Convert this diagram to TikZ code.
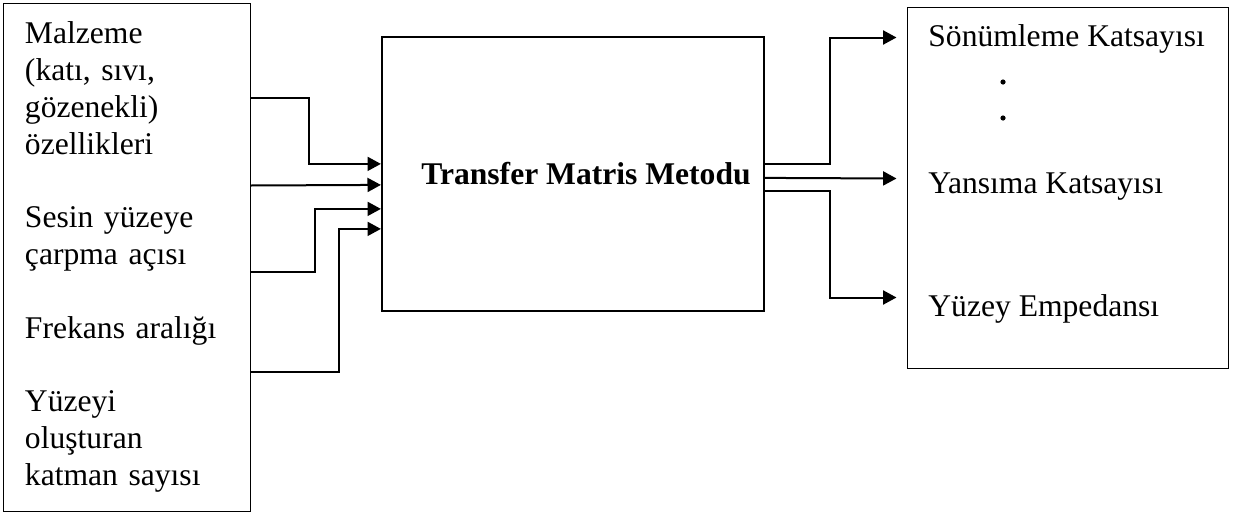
\documentclass[tikz,border=0pt]{standalone}
\usepackage{fontspec}
\setmainfont{Liberation Serif}
\usetikzlibrary{arrows.meta,calc}
\begin{document}
\begin{tikzpicture}[x=0.5pt,y=-0.5pt,
  every node/.style={font=\fontsize{15.8pt}{18.4pt}\selectfont},
  thinbox/.style={draw,line width=0.5pt,rectangle},
  mainbox/.style={draw,line width=1.1pt,rectangle},
  lbl/.style={inner sep=0pt,anchor=base west},
  arr/.style={line width=1pt,-{Triangle[length=6.7pt,width=7pt]}},
  dotmark/.style={fill=black}]
\useasboundingbox (0,0) rectangle (1233,515);
\node[thinbox,minimum width=123.5pt,minimum height=254pt,text width=101.5pt,inner xsep=11pt,align=left] (inp) at (126.5,257)
 {Malzeme\\(katı, sıvı,\\gözenekli)\\özellikleri\\[18.4pt]Sesin yüzeye\\çarpma açısı\\[18.4pt]Frekans aralığı\\[18.4pt]Yüzeyi\\oluşturan\\katman sayısı};
\node[mainbox,minimum width=191pt,minimum height=137pt] (tmm) at (573,174)
 {\hspace*{13pt}\textbf{Transfer Matris Metodu}};
\node[thinbox,minimum width=160.5pt,minimum height=180.5pt] (rbox) at (1067.5,187.5) {};
\node[lbl] (son) at (928,46) {Sönümleme Katsayısı};
\node[lbl] (yan) at (928,193) {Yansıma Katsayısı};
\node[lbl] (yuz) at (928,316) {Yüzey Empedansı};
\fill[dotmark] (1003,82) circle[radius=1.3pt];
\fill[dotmark] (1003,118) circle[radius=1.3pt];
% inputs
\draw[arr] ($(inp.north east)+(0,95)$) -| ($(tmm.north west)+(-72,128)$) -- ($(tmm.north west)+(0,128)$);
\draw[arr] ($(inp.north east)+(0,183)$) -- ($(tmm.north west)+(0,149)$);
\draw[arr] ($(inp.north east)+(0,269)$) -| ($(tmm.north west)+(-66,173)$) -- ($(tmm.north west)+(0,173)$);
\draw[arr] ($(inp.north east)+(0,369)$) -| ($(tmm.north west)+(-42,193)$) -- ($(tmm.north west)+(0,193)$);
% outputs
\draw[arr] ($(tmm.north east)+(0,128)$) -| ($(rbox.north west)+(-77,31)$) -- ($(rbox.north west)+(-10,31)$);
\draw[arr] ($(tmm.north east)+(0,142)$) -- ($(rbox.north west)+(-10,172)$);
\draw[arr] ($(tmm.north east)+(0,155)$) -| ($(rbox.north west)+(-77,291)$) -- ($(rbox.north west)+(-10,291)$);
\end{tikzpicture}
\end{document}
